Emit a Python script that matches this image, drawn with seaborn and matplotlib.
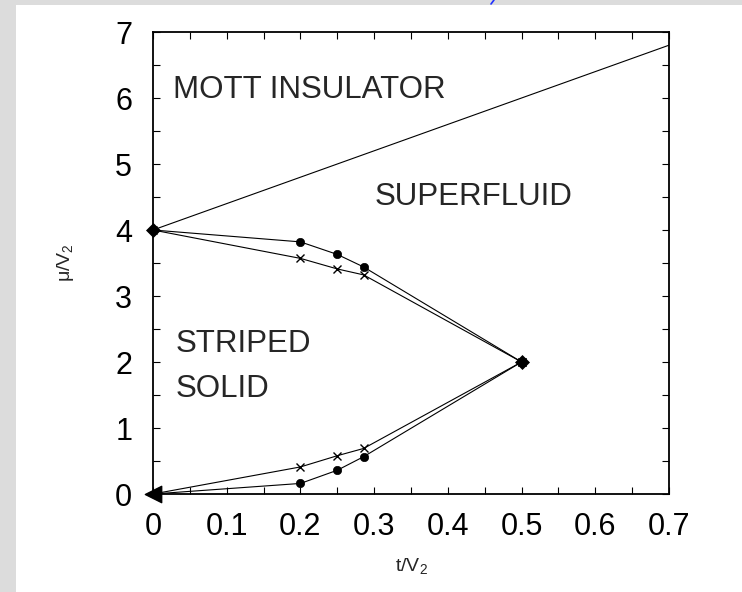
import matplotlib
matplotlib.use("Agg")
import matplotlib.pyplot as plt
import seaborn as sns
import pandas as pd
from matplotlib.lines import Line2D
from matplotlib.patches import Rectangle
from matplotlib.ticker import MultipleLocator

# Phase boundaries of the hard-core boson model (t/V2, mu/V2)
mott_t = [0.0, 0.7]
mott_mu = [4.0, 6.8]

# Solid -> superfluid boundary, two estimates (circles and crosses)
t_pts = [0.0, 0.2, 0.25, 0.2857, 0.5]
upper_circle = [4.0, 3.82, 3.63, 3.44, 2.0]
upper_cross = [4.0, 3.57, 3.41, 3.32, 2.0]
lower_circle = [0.0, 0.16, 0.36, 0.565, 2.0]
lower_cross = [0.0, 0.41, 0.58, 0.69, 2.0]

# Special points
tip_t = [0.0, 0.5]
tip_mu = [4.0, 2.0]
origin_t = [0.0]
origin_mu = [0.0]

x_ticks = [0, 0.1, 0.2, 0.3, 0.4, 0.5, 0.6, 0.7]
x_ticklabels = ["0", "0.1", "0.2", "0.3", "0.4", "0.5", "0.6", "0.7"]
y_ticks = [0, 1, 2, 3, 4, 5, 6, 7]

sns.set_theme(style="ticks")
plt.rcParams["font.family"] = ["Liberation Sans", "DejaVu Sans"]
plt.rcParams["mathtext.fontset"] = "custom"
plt.rcParams["mathtext.rm"] = "Liberation Sans"
plt.rcParams["mathtext.it"] = "Liberation Sans:italic"
plt.rcParams["mathtext.default"] = "regular"

fig = plt.figure(figsize=(7.42, 5.92), dpi=100)
fig.patch.set_facecolor("#dcdcdc")
# white sheet behind the graph
fig.add_artist(Rectangle((16 / 742, 0), 1 - 16 / 742, 1 - 5 / 592,
                         transform=fig.transFigure, facecolor="white",
                         edgecolor="none", zorder=0))
# small blue stroke at the top edge
fig.add_artist(Line2D([494 / 742, 491 / 742], [1.0, 1 - 4 / 592],
                      transform=fig.transFigure, color="#2030ff", lw=1.2))

ax = fig.add_axes([153 / 742, 1 - 494 / 592, 516 / 742, 462 / 592])
ax.set_facecolor("white")

lw = 0.8
sns.lineplot(x=mott_t, y=mott_mu, ax=ax, color="black", lw=lw, sort=False)

series = pd.DataFrame({
    "t": t_pts * 4,
    "mu": upper_circle + upper_cross + lower_circle + lower_cross,
    "kind": ["uc"] * 5 + ["ux"] * 5 + ["lc"] * 5 + ["lx"] * 5,
})
for kind, marker, ms, mew in [("uc", "o", 6, 0.5), ("ux", "x", 6, 1.0),
                               ("lc", "o", 6, 0.5), ("lx", "x", 6, 1.0)]:
    sub = series[series["kind"] == kind]
    sns.lineplot(data=sub, x="t", y="mu", ax=ax, color="black", lw=lw,
                 sort=False, marker=marker, markersize=ms,
                 markeredgewidth=mew, markeredgecolor="black")

sns.scatterplot(x=tip_t, y=tip_mu, ax=ax, marker="D", s=50, color="black",
                edgecolor="black", zorder=5, clip_on=False)
sns.scatterplot(x=origin_t, y=origin_mu, ax=ax, marker="<", s=140,
                color="black", edgecolor="black", zorder=5, clip_on=False)

ax.set_xlim(0, 0.7)
ax.set_ylim(0, 7)
ax.set_xticks(x_ticks)
ax.set_xticklabels(x_ticklabels)
ax.set_yticks(y_ticks)
ax.xaxis.set_minor_locator(MultipleLocator(0.05))
ax.yaxis.set_minor_locator(MultipleLocator(0.5))
ax.tick_params(which="both", direction="in", top=True, right=True,
               length=5, width=0.8, color="black")
ax.tick_params(which="major", labelsize=22, colors="black")
ax.tick_params(axis="x", which="major", pad=13)
ax.tick_params(axis="y", which="major", pad=15)
for sp in ax.spines.values():
    sp.set_visible(True)
    sp.set_linewidth(1.3)
    sp.set_color("black")

ax.set_xlabel(r"t/V$_2$", fontsize=14, labelpad=10)
ax.set_ylabel(r"$\mu$/V$_2$", fontsize=14, labelpad=28)

ax.text(0.027, 6.0, "MOTT INSULATOR", fontsize=22.5, ha="left", va="baseline")
ax.text(0.300, 4.38, "SUPERFLUID", fontsize=22.5, ha="left", va="baseline")
ax.text(0.031, 2.15, "STRIPED", fontsize=22.5, ha="left", va="baseline")
ax.text(0.031, 1.47, "SOLID", fontsize=22.5, ha="left", va="baseline")

fig.savefig("out.png", dpi=100, facecolor=fig.get_facecolor())
